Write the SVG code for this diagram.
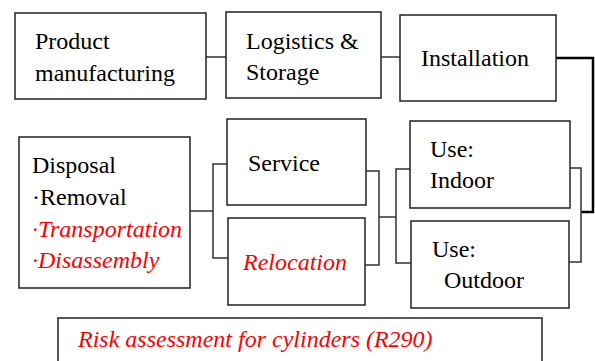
<svg xmlns="http://www.w3.org/2000/svg" width="595" height="361" viewBox="0 0 595 361">
<style>
.box{fill:#fff;stroke:#222;stroke-width:1.5}
.c{fill:none;stroke:#333;stroke-width:1.5}
.k{fill:none;stroke:#000;stroke-width:2.5}
.t{font-family:'Liberation Serif','Times New Roman',serif;font-size:24px;fill:#000}
.r{font-style:italic;fill:#ff0000}
</style>
<rect width="595" height="361" fill="#fff"/>
<g id="connectors">
<path class="c" d="M206 57H226"/>
<path class="c" d="M381 57H400"/>
<path class="k" d="M556 58H593V212H581"/>
<path class="c" d="M570 168H581V262H569"/>
<path class="c" d="M410 169H396V263H411"/>
<path class="c" d="M379 217H396"/>
<path class="c" d="M366 171H379V265H365"/>
<path class="c" d="M190 211H213"/>
<path class="c" d="M227 164H213V258H228"/>
</g>
<g id="product">
<rect class="box" x="15" y="13" width="191" height="86"/>
<text class="t" x="35" y="49">Product</text>
<text class="t" x="35" y="81">manufacturing</text>
</g>
<g id="logistics">
<rect class="box" x="226" y="12" width="155" height="86"/>
<text class="t" x="246" y="49">Logistics &amp;</text>
<text class="t" x="246" y="80">Storage</text>
</g>
<g id="installation">
<rect class="box" x="400" y="15" width="156" height="86"/>
<text class="t" x="421" y="66">Installation</text>
</g>
<g id="disposal">
<rect class="box" x="19" y="137" width="171" height="151"/>
<text class="t" x="32" y="173">Disposal</text>
<text class="t" x="32" y="205">&#183;Removal</text>
<text class="t r" x="32" y="237">&#183;Transportation</text>
<text class="t r" x="32" y="268">&#183;Disassembly</text>
</g>
<g id="service">
<rect class="box" x="227" y="119" width="139" height="86"/>
<text class="t" x="248" y="171">Service</text>
</g>
<g id="relocation">
<rect class="box" x="228" y="218" width="137" height="87"/>
<text class="t r" x="243" y="270">Relocation</text>
</g>
<g id="use-indoor">
<rect class="box" x="410" y="121" width="160" height="87"/>
<text class="t" x="430" y="157">Use:</text>
<text class="t" x="430" y="188">Indoor</text>
</g>
<g id="use-outdoor">
<rect class="box" x="411" y="221" width="158" height="87"/>
<text class="t" x="432" y="257">Use:</text>
<text class="t" x="444" y="288">Outdoor</text>
</g>
<g id="risk">
<rect class="box" x="58" y="318" width="484" height="60"/>
<text class="t r" x="78" y="347">Risk assessment for cylinders (R290)</text>
</g>
</svg>
